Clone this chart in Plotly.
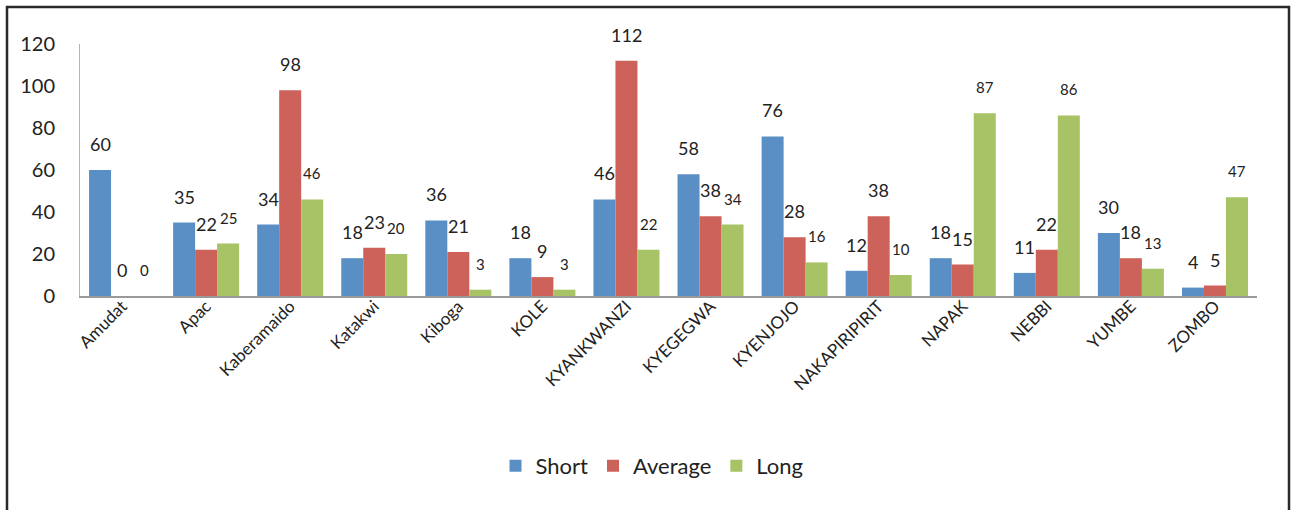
import plotly.graph_objects as go

districts = ["Amudat", "Apac", "Kaberamaido", "Katakwi", "Kiboga", "KOLE", "KYANKWANZI",
             "KYEGEGWA", "KYENJOJO", "NAKAPIRIPIRIT", "NAPAK", "NEBBI", "YUMBE", "ZOMBO"]
short_vals = [60, 35, 34, 18, 36, 18, 46, 58, 76, 12, 18, 11, 30, 4]
average_vals = [0, 22, 98, 23, 21, 9, 112, 38, 28, 38, 15, 22, 18, 5]
long_vals = [0, 25, 46, 20, 3, 3, 22, 34, 16, 10, 87, 86, 13, 47]

series = [
    ("Short", short_vals, "#5A8FC6", 18),
    ("Average", average_vals, "#CC6259", 18),
    ("Long", long_vals, "#A8C266", 15),
]

W, H = 1293, 510
L, R, T, B = 80, 36, 44, 214
FONT = "Lato"
BARGAP = 0.215

fig = go.Figure()
for name, vals, color, _ in series:
    fig.add_trace(go.Bar(name=name, x=list(range(len(districts))), y=vals,
                         marker=dict(color=color, line=dict(width=0))))

# value labels floating above each bar
bw = (1 - BARGAP) / 3
annotations = []
for k, (name, vals, color, fsize) in enumerate(series):
    off = (k - 1) * bw
    for i, v in enumerate(vals):
        annotations.append(dict(x=i + off, y=v, xref="x", yref="y", text=str(v),
                                showarrow=False, yanchor="middle", yshift=26,
                                font=dict(family=FONT, size=fsize, color="#222")))

pw = W - L - R
ph = H - T - B
def px_x(p):
    return (p - L) / pw
def px_y(p):
    return (H - B - p) / ph

fig.update_layout(
    width=W, height=H,
    margin=dict(l=L, r=R, t=T, b=B),
    paper_bgcolor="white", plot_bgcolor="white",
    barmode="group", bargap=BARGAP, bargroupgap=0,
    font=dict(family=FONT, color="#222"),
    annotations=annotations,
    showlegend=True,
    legend=dict(orientation="h", x=px_x(652), xanchor="center", y=px_y(466), yanchor="middle",
                font=dict(size=22, family=FONT, color="#222"), traceorder="normal",
                itemwidth=30),
    shapes=[dict(type="rect", xref="paper", yref="paper",
                 x0=px_x(7), x1=px_x(1289), y0=px_y(530), y1=px_y(7),
                 line=dict(color="#2a2a2a", width=2.5), layer="below")],
    xaxis=dict(tickmode="array", tickvals=list(range(len(districts))), ticktext=districts,
               range=[-0.5, len(districts) - 0.5], tickangle=-45,
               tickfont=dict(size=17, family=FONT, color="#222"),
               ticklabelstandoff=-8,
               showline=True, linecolor="#9a9a9a", linewidth=1.5, ticks="",
               showgrid=False, zeroline=False),
    yaxis=dict(range=[0, 120], dtick=20, showgrid=False, zeroline=False,
               showline=True, linecolor="#b5b5b5", linewidth=1, ticks="",
               ticklabelstandoff=20,
               tickfont=dict(size=20, family=FONT, color="#222")),
)

fig.write_html("out.html")
